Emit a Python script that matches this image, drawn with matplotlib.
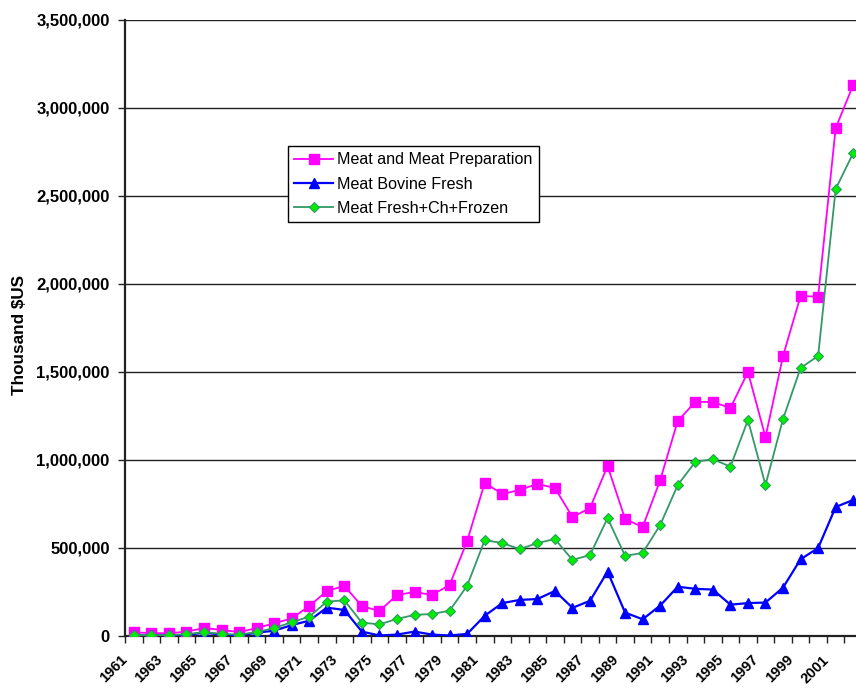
import matplotlib
matplotlib.use("Agg")
import matplotlib.pyplot as plt
from matplotlib.ticker import FuncFormatter, FixedLocator
from matplotlib.transforms import ScaledTranslation

plt.rcParams['font.family'] = ['Liberation Sans', 'DejaVu Sans']

# ----------------------------
# Dati (migliaia di $US)
# ----------------------------
years = list(range(1961, 2003))

meat_prep = [
    20000, 17000, 15000, 25000, 45000, 35000, 22000, 45000, 72000, 100000,
    170000, 255000, 285000, 170000, 142000, 233000, 250000, 233000, 290000, 540000,
    870000, 807000, 830000, 864000, 841000, 676000, 727000, 966000, 665000, 619000,
    886000, 1222000, 1330000, 1330000, 1295000, 1500000, 1130000, 1591000, 1932000, 1928000,
    2886000, 3131000,
]

bovine_fresh = [
    3000, 3000, 3000, 6000, 19000, 8000, 3000, 19000, 30000, 62000,
    87000, 161000, 148000, 25000, 3000, 8000, 25000, 8000, 3000, 12000,
    115000, 187000, 205000, 210000, 256000, 160000, 200000, 366000, 133000, 95000,
    173000, 280000, 268000, 264000, 178000, 187000, 190000, 275000, 436000, 500000,
    733000, 773000,
]

fresh_frozen = [
    5000, 5000, 5000, 10000, 22000, 12000, 8000, 22000, 45000, 78000,
    110000, 195000, 203000, 76000, 66000, 97000, 120000, 125000, 144000, 286000,
    545000, 528000, 494000, 528000, 551000, 432000, 460000, 670000, 455000, 472000,
    631000, 858000, 989000, 1005000, 962000, 1227000, 858000, 1233000, 1523000, 1591000,
    2540000, 2744000,
]

y_ticks = list(range(0, 3500001, 500000))

# ----------------------------
# Grafico
# ----------------------------
fig = plt.figure(figsize=(8.56, 6.88), dpi=100)
ax = fig.add_axes([125 / 856, 52 / 688, 737 / 856, 616 / 688])

x = list(range(len(years)))

ax.plot(x, meat_prep, color='#FF00FF', lw=1.3, marker='s', ms=7,
        mfc='#FF00FF', mec='#FF00FF', label='Meat and Meat Preparation', zorder=3)
ax.plot(x, bovine_fresh, color='#0000FF', lw=1.6, marker='^', ms=7.5,
        mfc='#0000FF', mec='#0000FF', label='Meat Bovine Fresh', zorder=4)
ax.plot(x, fresh_frozen, color='#339966', lw=1.3, marker='D', ms=5.5,
        mfc='#00EE00', mec='#339966', mew=0.8, label='Meat Fresh+Ch+Frozen', zorder=5)

ax.set_xlim(-0.5, len(years) - 0.5)
ax.set_ylim(0, 3500000)

ax.set_yticks(y_ticks)
ax.yaxis.set_major_formatter(FuncFormatter(lambda v, p: f"{int(v):,}"))
ax.grid(axis='y', color='#222222', lw=1.0, zorder=1)
ax.set_axisbelow(True)

# etichette anni ogni 2, tacche tra le categorie
ax.set_xticks(x[::2])
ax.set_xticklabels([str(y) for y in years[::2]], rotation=45, ha='right', va='top')
ax.xaxis.set_minor_locator(FixedLocator([i - 0.5 for i in range(len(years) + 1)]))
ax.tick_params(axis='x', which='major', length=0, pad=12)
ax.tick_params(axis='x', which='minor', length=5, width=1, color='#222222', direction='out')
ax.tick_params(axis='y', length=5, width=1, color='#222222', direction='out', pad=6)

shift = ScaledTranslation(-4 / 100, 0, fig.dpi_scale_trans)
for lab in ax.get_xticklabels():
    lab.set_transform(lab.get_transform() + shift)
    lab.set_fontweight('bold')
    lab.set_fontsize(10.5)

for lab in ax.get_yticklabels():
    lab.set_fontweight('bold')
    lab.set_fontsize(12)

for s in ['top', 'right']:
    ax.spines[s].set_visible(False)
ax.spines['left'].set_linewidth(1.6)
ax.spines['bottom'].set_linewidth(1.6)
ax.spines['left'].set_color('#222222')
ax.spines['bottom'].set_color('#222222')

ax.set_ylabel('Thousand $US', fontsize=12.3, fontweight='bold')
ax.yaxis.set_label_coords((27 - 125) / 737, (636 - 335) / 616)

leg = ax.legend(loc='upper left', bbox_to_anchor=(288 / 856, 1 - 146 / 688),
                bbox_transform=fig.transFigure, borderaxespad=0, fancybox=False,
                framealpha=1, edgecolor='black', fontsize=11.6, handlelength=2.4,
                labelspacing=0.57, borderpad=0.4, handletextpad=0.25)
leg.get_frame().set_linewidth(1.0)
leg.set_zorder(10)

fig.savefig('out.png', dpi=100)
